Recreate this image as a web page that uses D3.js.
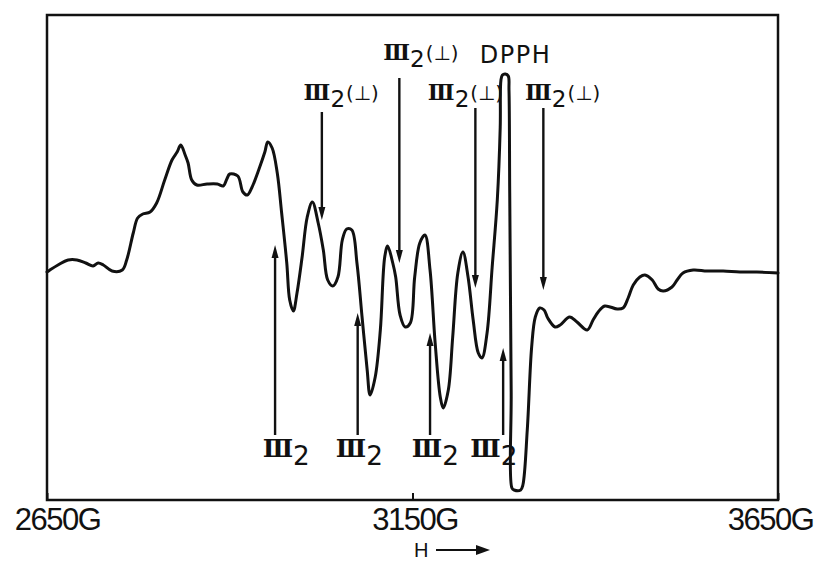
<!DOCTYPE html>
<html><head><meta charset="utf-8">
<script src="https://cdn.jsdelivr.net/npm/d3@7"></script>
<style>
html,body{margin:0;padding:0;background:#fff;}
svg{display:block;}
</style></head>
<body>
<svg id="c" width="820" height="562"></svg>
<script>
// magnetic field (G) and derivative ESR signal (arb. units)
const field = [2650,2654,2665,2679,2691,2703,2713,2720,2727,2739,2753,2759,2768,2774,2781,2791,2800,2811,2821,2828,2833,2839,2843,2848,2855,2869,2883,2891,2896,2900,2911,2918,2924,2930,2941,2948,2952,2958,2965,2971,2978,2982,2987,2992,2999,3006,3013,3021,3028,3034,3041,3048,3054,3060,3067,3074,3081,3088,3092,3099,3106,3112,3116,3123,3127,3133,3140,3147,3153,3160,3167,3174,3181,3188,3192,3199,3205,3212,3219,3226,3233,3240,3245,3252,3259,3266,3270,3271,3273,3277,3281,3282,3283,3285,3286,3289,3298,3301,3307,3313,3318,3324,3330,3335,3345,3352,3365,3375,3389,3397,3404,3413,3430,3438,3445,3452,3461,3468,3478,3486,3493,3505,3512,3520,3534,3553,3575,3598,3621,3650];
const signal = [-2,0,5,10,10,7,4,7,5,-1,0,10,37,52,56,58,67,90,110,118,125,115,107,90,85,86,86,84,91,96,94,78,75,82,103,118,128,122,97,57,7,-30,-41,-23,13,53,68,47,20,-10,-16,-7,30,41,40,7,-47,-100,-125,-107,-60,13,24,7,-7,-45,-57,-53,-7,27,35,0,-73,-127,-138,-120,-67,-3,18,-7,-50,-83,-88,-63,3,70,143,190,195,196,194,180,77,-123,-218,-220,-220,-215,-160,-77,-47,-38,-40,-48,-57,-55,-47,-52,-60,-50,-42,-36,-39,-38,-28,-15,-7,-5,-10,-19,-21,-17,-10,-3,0,-1,-1,-2,-2,-3];
const tickValues = [2650, 3150, 3650];
const tickLabels = ["2650G", "3150G", "3650G"];

// arrows pointing down (labels above): field, tail, tip, label start field, label baseline
const downField = [3026, 3132, 3236, 3329];
const downTail  = [158, 192, 162, 162];
const downTip   = [50, 7, -18, -20];
const downLabelField = [3001, 3110, 3171, 3304];
const downLabelLevel = [170, 210, 170, 170];
// arrows pointing up (labels below)
const upField = [2962, 3075, 3174, 3274];
const upTail  = [-165, -165, -165, -165];
const upTip   = [25, -43, -63, -78];
const upLabelField = [2945, 3045, 3149, 3229];
const upLabelLevel = -187;
const dpphLabel = {text: "DPPH", field: 3242, level: 207};

const svg = d3.select("#c");
const x = d3.scaleLinear().domain([2650, 3650]).range([47, 778]);
const y = d3.scaleLinear().domain([-230, 255]).range([500, 15]);
const ink = "#111";

// frame
svg.append("rect").attr("x", 47).attr("y", 15).attr("width", 731).attr("height", 485)
  .attr("fill", "none").attr("stroke", ink).attr("stroke-width", 2.5);

// axis
const ax = svg.append("g").attr("transform", "translate(0,500)")
  .call(d3.axisBottom(x).tickValues(tickValues).tickSizeInner(-7).tickSizeOuter(0)
    .tickPadding(8).tickFormat((d, i) => tickLabels[i]));
ax.select(".domain").remove();
ax.selectAll(".tick line").attr("stroke", ink).attr("stroke-width", 2);
ax.selectAll(".tick text").attr("fill", ink)
  .style("font-family", "'Liberation Sans', Arial, sans-serif").style("font-size", "31px")
  .style("letter-spacing", "-1.5px")
  .attr("dx", (d, i) => i === 0 ? 10 : (i === 2 ? -8 : 2));

// H arrow
const hg = svg.append("g");
hg.append("text").attr("x", 414).attr("y", 557).text("H")
  .style("font-family", "'Liberation Sans', Arial, sans-serif").style("font-size", "20px").attr("fill", ink);
hg.append("line").attr("x1", 436).attr("x2", 478).attr("y1", 550).attr("y2", 550)
  .attr("stroke", ink).attr("stroke-width", 2);
hg.append("path").attr("d", "M476,545 L490,550 L476,555 Z").attr("fill", ink);

// spectrum
const pts = field.map((f, i) => [f, signal[i]]);
svg.append("path").datum(pts)
  .attr("d", d3.line().x(d => x(d[0])).y(d => y(d[1])).curve(d3.curveCatmullRom.alpha(0.5)))
  .attr("fill", "none").attr("stroke", ink).attr("stroke-width", 3)
  .attr("stroke-linejoin", "round").attr("stroke-linecap", "round");

// arrows
function arrow(f, tail, tip) {
  const xp = x(f), y0 = y(tail), y1 = y(tip);
  const dir = y1 > y0 ? 1 : -1;
  svg.append("line").attr("x1", xp).attr("x2", xp).attr("y1", y0).attr("y2", y1 - dir * 10)
    .attr("stroke", ink).attr("stroke-width", 2.4);
  svg.append("path").attr("d", `M${xp - 3.5},${y1 - dir * 13} L${xp},${y1} L${xp + 3.5},${y1 - dir * 13} Z`)
    .attr("fill", ink);
}
downField.forEach((f, i) => arrow(f, downTail[i], downTip[i]));
upField.forEach((f, i) => arrow(f, upTail[i], upTip[i]));

// labels
function label(f, lvl, withPerp, size) {
  const t = svg.append("text").attr("x", x(f)).attr("y", y(lvl)).attr("fill", ink);
  t.append("tspan").text("Ⅲ").style("font-family", "'DejaVu Serif', serif").style("font-size", size + "px")
    .style("font-weight", "bold");
  t.append("tspan").text("2").attr("dy", size * 0.3).style("font-family", "'DejaVu Sans', sans-serif")
    .style("font-size", (size * 1.05) + "px");
  if (withPerp) {
    t.append("tspan").text("(⊥)").attr("dy", -size * 0.3).attr("dx", 1)
      .style("font-family", "'DejaVu Sans', sans-serif").style("font-size", (size * 0.9) + "px");
  }
}
downLabelField.forEach((f, i) => label(f, downLabelLevel[i], true, 22));
upLabelField.forEach(f => label(f, upLabelLevel, false, 25));
svg.append("text").attr("x", x(dpphLabel.field)).attr("y", y(dpphLabel.level)).text(dpphLabel.text)
  .attr("fill", ink).style("font-family", "'DejaVu Sans', sans-serif").style("font-size", "24px")
  .style("letter-spacing", "1.5px");
</script>
</body></html>
